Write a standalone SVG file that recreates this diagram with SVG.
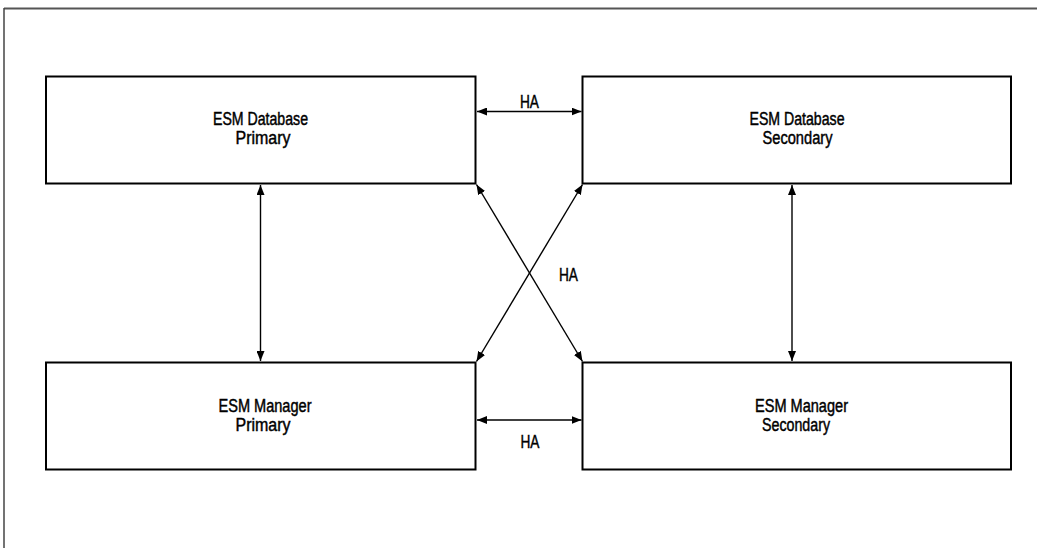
<svg xmlns="http://www.w3.org/2000/svg" width="1037" height="548" viewBox="0 0 1037 548">
<style>
.box{fill:#fff;stroke:#000;stroke-width:2}
.lbl{font-family:"Liberation Sans",Arial,sans-serif;font-size:18px;fill:#000;stroke:#000;stroke-width:0.45;text-anchor:middle}
.con{stroke:#000;stroke-width:1.4;fill:none;marker-start:url(#ah);marker-end:url(#ah)}
</style>
<defs>
<marker id="ah" viewBox="0 0 10 8" refX="10" refY="4" markerWidth="10" markerHeight="8" markerUnits="userSpaceOnUse" orient="auto-start-reverse">
<path d="M0,0 L10,4 L0,8 z" fill="#000"/>
</marker>
</defs>
<g id="frame">
<line x1="4" y1="8.5" x2="1037" y2="8.5" stroke="#555" stroke-width="2.2"/>
<line x1="4" y1="8" x2="4" y2="548" stroke="#444" stroke-width="1.5"/>
</g>
<g id="connectors">
<line class="con" x1="477" y1="111.5" x2="581.5" y2="111.5"/>
<line class="con" x1="477" y1="420" x2="581.5" y2="420"/>
<line class="con" x1="260.5" y1="185" x2="260.5" y2="361"/>
<line class="con" x1="792" y1="185" x2="792" y2="361"/>
<line class="con" x1="476.5" y1="184.5" x2="582.5" y2="361.5"/>
<line class="con" x1="582.5" y1="184.5" x2="476.5" y2="361.5"/>
<text class="lbl" x="529.5" y="107.5" textLength="19" lengthAdjust="spacingAndGlyphs">HA</text>
<text class="lbl" x="568.5" y="280.5" textLength="19" lengthAdjust="spacingAndGlyphs">HA</text>
<text class="lbl" x="530" y="448" textLength="19" lengthAdjust="spacingAndGlyphs">HA</text>
</g>
<g id="db-primary">
<rect class="box" x="46" y="76.5" width="429.5" height="107"/>
<text class="lbl" x="260.5" y="124.5" textLength="95" lengthAdjust="spacingAndGlyphs">ESM Database</text>
<text class="lbl" x="263" y="143.5" textLength="55" lengthAdjust="spacingAndGlyphs">Primary</text>
</g>
<g id="db-secondary">
<rect class="box" x="582.5" y="76.5" width="428.5" height="107"/>
<text class="lbl" x="797" y="124.5" textLength="95" lengthAdjust="spacingAndGlyphs">ESM Database</text>
<text class="lbl" x="797.5" y="143.5" textLength="70" lengthAdjust="spacingAndGlyphs">Secondary</text>
</g>
<g id="mgr-primary">
<rect class="box" x="46" y="362.5" width="429.5" height="107"/>
<text class="lbl" x="265" y="411.5" textLength="93" lengthAdjust="spacingAndGlyphs">ESM Manager</text>
<text class="lbl" x="263" y="430.5" textLength="55" lengthAdjust="spacingAndGlyphs">Primary</text>
</g>
<g id="mgr-secondary">
<rect class="box" x="582.5" y="362.5" width="428.5" height="107"/>
<text class="lbl" x="801.5" y="411.5" textLength="93" lengthAdjust="spacingAndGlyphs">ESM Manager</text>
<text class="lbl" x="796" y="430.5" textLength="68" lengthAdjust="spacingAndGlyphs">Secondary</text>
</g>
</svg>
